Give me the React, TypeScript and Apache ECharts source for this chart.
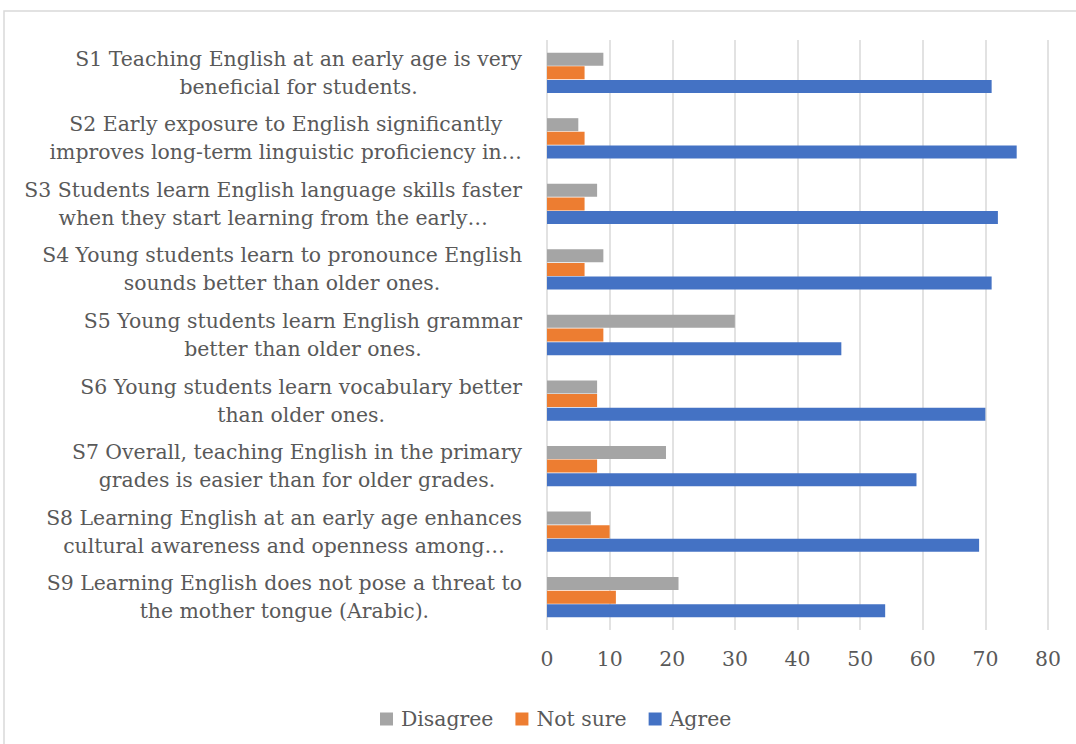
import React, { useEffect, useRef } from "react";
import * as echarts from "echarts";

const categories: string[] = [
  "S1 Teaching English at an early age is very\nbeneficial for students.",
  "S2 Early exposure to English significantly\nimproves long-term linguistic proficiency in…",
  "S3 Students learn English language skills faster\nwhen they start learning from the early…",
  "S4 Young students learn to pronounce English\nsounds better than older ones.",
  "S5 Young students learn English grammar\nbetter than older ones.",
  "S6 Young students learn vocabulary better\nthan older ones.",
  "S7 Overall, teaching English in the primary\ngrades is easier than for older grades.",
  "S8 Learning English at an early age enhances\ncultural awareness and openness among…",
  "S9 Learning English does not pose a threat to\nthe mother tongue (Arabic).",
];

const disagree: number[] = [9, 5, 8, 9, 30, 8, 19, 7, 21];
const notSure: number[] = [6, 6, 6, 6, 9, 8, 8, 10, 11];
const agree: number[] = [71, 75, 72, 71, 47, 70, 59, 69, 54];

const seriesNames: string[] = ["Disagree", "Not sure", "Agree"];
const xTicks = { min: 0, max: 80, interval: 10 };

const FONT = "DejaVu Serif";
const FS = 20.4;
const TEXT = "#595959";

function measure(text: string): number {
  const c = document.createElement("canvas").getContext("2d");
  if (!c) return text.length * 10;
  c.font = `${FS}px "${FONT}"`;
  return c.measureText(text).width;
}

export default function App() {
  const ref = useRef<HTMLDivElement>(null);
  useEffect(() => {
    if (!ref.current) return;
    const chart = echarts.init(ref.current, undefined, { renderer: "svg" });
    const rich: Record<string, any> = {};
    categories.forEach((cat, i) => {
      const w = Math.max(...cat.split("\n").map(measure)) + 2;
      rich["l" + i] = {
        width: w,
        align: "center",
        fontFamily: FONT,
        fontSize: FS,
        lineHeight: 28,
        color: TEXT,
      };
    });
    chart.setOption({
      animation: false,
      backgroundColor: "#ffffff",
      textStyle: { fontFamily: FONT, color: TEXT },
      graphic: [
        {
          type: "rect",
          shape: { x: 4, y: 11, width: 1100, height: 800 },
          style: { fill: "none", stroke: "#d9d9d9", lineWidth: 1.5 },
          silent: true,
          z: -10,
        },
      ],
      grid: { left: 547, right: 28, top: 40, bottom: 114, containLabel: false },
      legend: {
        data: seriesNames,
        left: 375,
        top: 704,
        itemWidth: 13,
        itemHeight: 13,
        itemGap: 22,
        icon: "rect",
        textStyle: { fontFamily: FONT, fontSize: FS, color: TEXT, padding: [0, 0, 0, 3] },
      },
      xAxis: {
        type: "value",
        min: xTicks.min,
        max: xTicks.max,
        interval: xTicks.interval,
        axisLine: { show: false },
        axisTick: { show: false },
        splitLine: { show: true, lineStyle: { color: "#d9d9d9", width: 1.5 } },
        axisLabel: { fontFamily: FONT, fontSize: FS, color: TEXT, margin: 19 },
      },
      yAxis: {
        type: "category",
        data: categories,
        inverse: true,
        axisLine: { show: false },
        axisTick: { show: false },
        axisLabel: {
          fontFamily: FONT,
          fontSize: FS,
          lineHeight: 28,
          color: TEXT,
          align: "right",
          margin: 24,
          interval: 0,
          formatter: (value: string, index: number) =>
            value
              .split("\n")
              .map((line) => `{l${index}|${line}}`)
              .join("\n"),
          rich,
        },
      },
      series: [
        { name: seriesNames[0], type: "bar", data: disagree, barWidth: 13, barGap: "5%", itemStyle: { color: "#A5A5A5" } },
        { name: seriesNames[1], type: "bar", data: notSure, barWidth: 13, barGap: "5%", itemStyle: { color: "#ED7D31" } },
        { name: seriesNames[2], type: "bar", data: agree, barWidth: 13, barGap: "5%", itemStyle: { color: "#4472C4" } },
      ],
    });
    return () => chart.dispose();
  }, []);
  return (
    <div
      ref={ref}
      style={{ position: "absolute", left: 0, top: 0, width: 1076, height: 744 }}
    />
  );
}
